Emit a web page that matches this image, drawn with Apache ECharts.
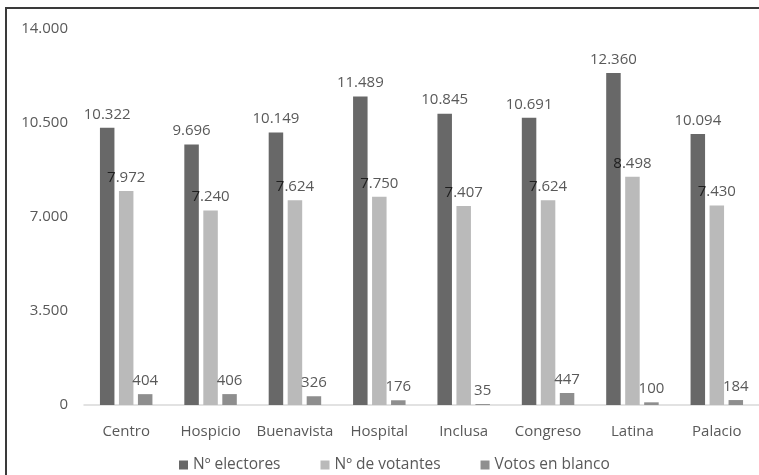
<!DOCTYPE html>
<html lang="es">
<head>
<meta charset="UTF-8">
<title>Electores por barrio</title>
<script src="https://cdn.jsdelivr.net/npm/echarts@6/dist/echarts.min.js"></script>
<style>
    html, body { margin: 0; padding: 0; background: #fff; overflow: hidden; }
    #main { position: absolute; left: 0; top: 0; width: 759px; height: 475px; }
    #marco {
        position: absolute; left: 5px; top: 7px;
        width: 800px; height: 520px;
        border-left: 2px solid #3a3a3a; border-top: 2px solid #3a3a3a;
        pointer-events: none;
    }
</style>
</head>
<body>
<div id="main"></div>
<div id="marco"></div>
<script type="text/javascript">
    // datos
    var barrios = ['Centro', 'Hospicio', 'Buenavista', 'Hospital', 'Inclusa', 'Congreso', 'Latina', 'Palacio'];
    var electores = [10322, 9696, 10149, 11489, 10845, 10691, 12360, 10094];
    var votantes = [7972, 7240, 7624, 7750, 7407, 7624, 8498, 7430];
    var blanco = [404, 406, 326, 176, 35, 447, 100, 184];
    var nombres = ['Nº electores', 'Nº de votantes', 'Votos en blanco'];

    // separador de miles con punto
    function miles(v) {
        return String(Math.round(v)).replace(/\B(?=(\d{3})+(?!\d))/g, '.');
    }

    var fuente = 'Open Sans';
    var gris = '#595959';

    function serie(nombre, datos, color, solapa) {
        var s = {
            name: nombre,
            type: 'bar',
            data: datos,
            barWidth: 14.5,
            barGap: '31%',
            itemStyle: { color: color },
            label: {
                show: true,
                position: 'top',
                distance: 6,
                color: gris,
                fontFamily: fuente,
                fontSize: 15,
                formatter: function (p) { return miles(p.value); }
            }
        };
        if (solapa) {
            // la primera cifra cae sobre la barra oscura: se ve casi negra
            s.label.formatter = function (p) {
                var t = miles(p.value);
                return '{a|' + t.charAt(0) + '}{b|' + t.slice(1) + '}';
            };
            s.label.rich = {
                a: { color: '#1e1e1e', fontFamily: fuente, fontSize: 15 },
                b: { color: gris, fontFamily: fuente, fontSize: 15 }
            };
        }
        return s;
    }

    var myChart = echarts.init(document.getElementById('main'));
    var option = {
        animation: false,
        textStyle: { fontFamily: fuente },
        grid: { left: 84, right: -5, top: 29, bottom: 70 },
        legend: {
            data: nombres,
            left: 174,
            bottom: -3,
            itemWidth: 9,
            itemHeight: 9,
            itemGap: 40,
            icon: 'rect',
            textStyle: { color: gris, fontSize: 15.5, fontFamily: fuente }
        },
        xAxis: {
            type: 'category',
            data: barrios,
            axisLine: { lineStyle: { color: '#d9d9d9', width: 1.5 } },
            axisTick: { show: false },
            axisLabel: { interval: 0, color: gris, fontSize: 15, margin: 19, fontFamily: fuente }
        },
        yAxis: {
            type: 'value',
            min: 0,
            max: 14000,
            interval: 3500,
            splitLine: { show: false },
            axisLine: { show: false },
            axisTick: { show: false },
            axisLabel: {
                color: gris, fontSize: 15, margin: 16, fontFamily: fuente,
                formatter: miles
            }
        },
        series: [
            serie(nombres[0], electores, '#686868'),
            serie(nombres[1], votantes, '#bababa', true),
            serie(nombres[2], blanco, '#8e8e8e')
        ]
    };
    myChart.setOption(option);
</script>
</body>
</html>
